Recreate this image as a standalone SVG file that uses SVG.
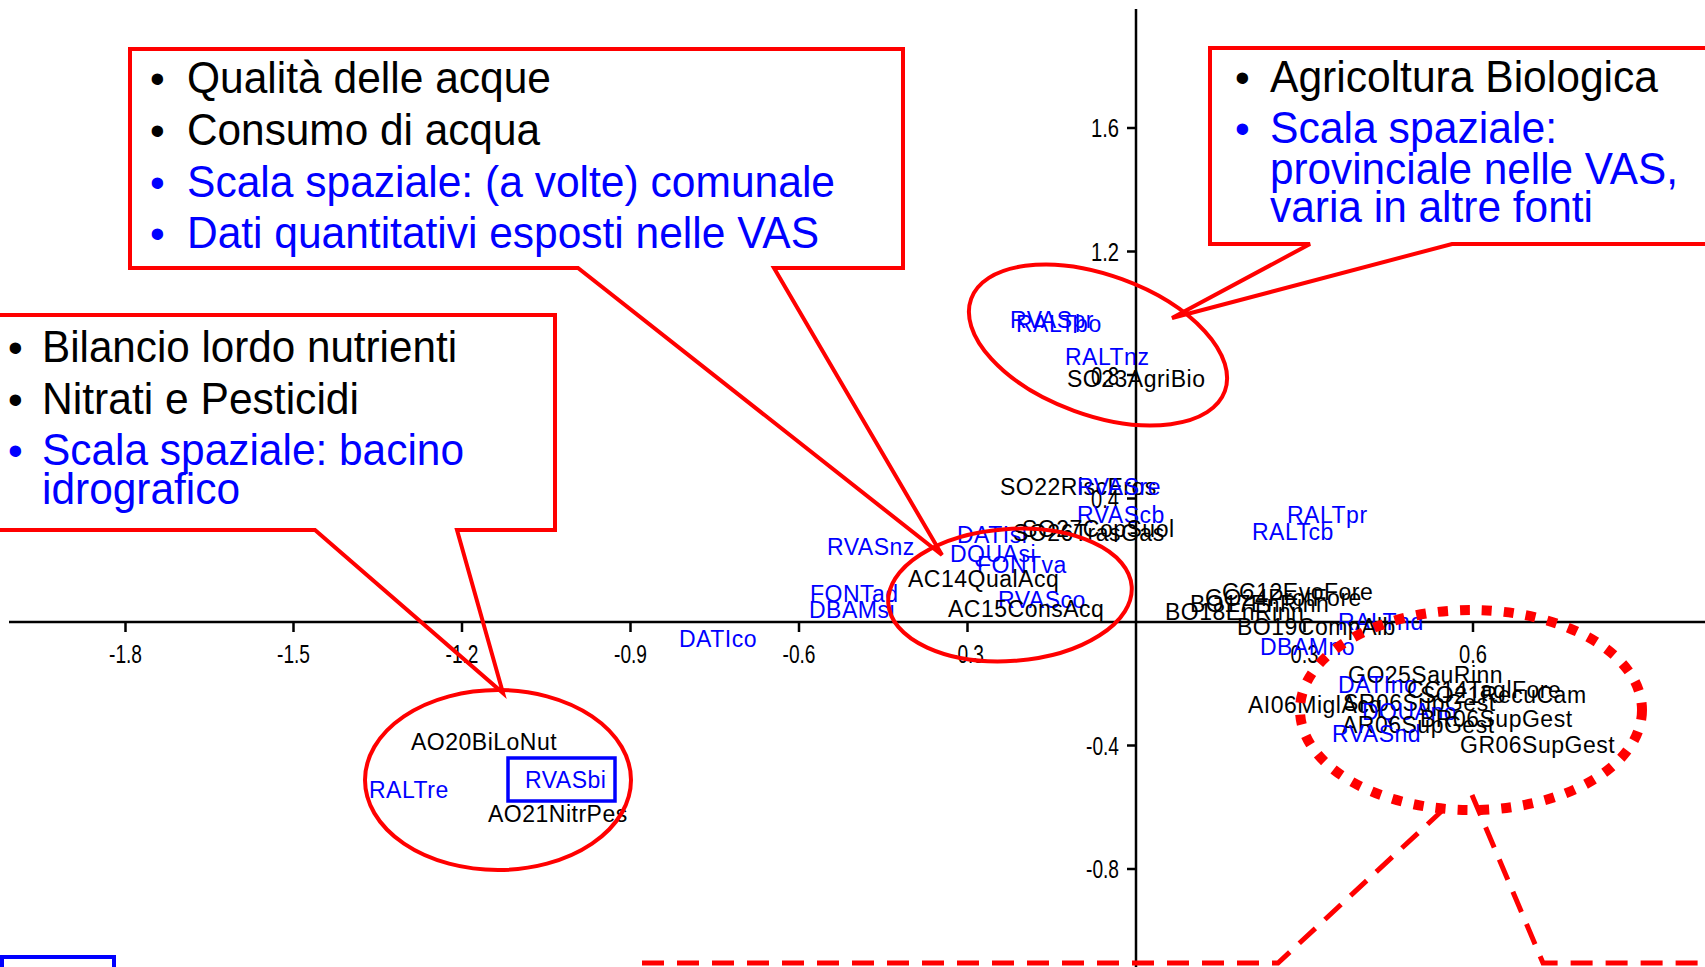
<svg xmlns="http://www.w3.org/2000/svg" width="1705" height="967" viewBox="0 0 1705 967">
<style>
text{font-family:"Liberation Sans",Arial,sans-serif}
.ax{stroke:#000;stroke-width:2.5;fill:none}
.tk{font-size:25px;fill:#000}
.lb{font-size:23px;letter-spacing:0.5px;fill:#000}
.lbb{font-size:23px;letter-spacing:0.5px;fill:#0000ff}
.co{fill:none;stroke:#ff0000;stroke-width:4}
.ct{font-size:45px;fill:#000}
.cb{font-size:45px;fill:#0000ff}
.bu{font-size:42px}
.el{fill:none;stroke:#ff0000;stroke-width:4}
</style>
<rect width="1705" height="967" fill="#fff"/>
<g id="axes">
<line class="ax" x1="9" y1="622" x2="1705" y2="622"/>
<line class="ax" x1="1136" y1="9" x2="1136" y2="967"/>
<path class="ax" d="M125.5,622v10M293.5,622v10M462,622v10M630.5,622v10M799,622v10M967.5,622v10M1304.5,622v10M1473,622v10M1136,128h-9M1136,251.5h-9M1136,375h-9M1136,498.5h-9M1136,745.5h-9M1136,869h-9"/>
<g class="tk" text-anchor="middle">
<text x="125.5" y="663" textLength="33" lengthAdjust="spacingAndGlyphs">-1.8</text><text x="293.5" y="663" textLength="33" lengthAdjust="spacingAndGlyphs">-1.5</text><text x="462" y="663" textLength="33" lengthAdjust="spacingAndGlyphs">-1.2</text><text x="630.5" y="663" textLength="33" lengthAdjust="spacingAndGlyphs">-0.9</text><text x="799" y="663" textLength="33" lengthAdjust="spacingAndGlyphs">-0.6</text><text x="967.5" y="663" textLength="33" lengthAdjust="spacingAndGlyphs">-0.3</text><text x="1304.5" y="663" textLength="28" lengthAdjust="spacingAndGlyphs">0.3</text><text x="1473" y="663" textLength="28" lengthAdjust="spacingAndGlyphs">0.6</text>
</g>
<g class="tk" text-anchor="end">
<text x="1119" y="137" textLength="28" lengthAdjust="spacingAndGlyphs">1.6</text><text x="1119" y="261" textLength="28" lengthAdjust="spacingAndGlyphs">1.2</text><text x="1119" y="385" textLength="28" lengthAdjust="spacingAndGlyphs">0.8</text><text x="1119" y="508" textLength="28" lengthAdjust="spacingAndGlyphs">0.4</text><text x="1119" y="755" textLength="33" lengthAdjust="spacingAndGlyphs">-0.4</text><text x="1119" y="878" textLength="33" lengthAdjust="spacingAndGlyphs">-0.8</text>
</g>
</g>
<g id="points">
<text class="lbb" x="1010" y="328">RVASpr</text>
<text class="lbb" x="1016" y="332">RALTbo</text>
<text class="lbb" x="1065" y="365">RALTnz</text>
<text class="lb" x="1067" y="387">SO23AgriBio</text>
<text class="lb" x="1000" y="495">SO22RiscEros</text>
<text class="lbb" x="1077" y="495">RVASre</text>
<text class="lbb" x="1077" y="523">RVAScb</text>
<text class="lbb" x="1287" y="523">RALTpr</text>
<text class="lbb" x="1252" y="540">RALTcb</text>
<text class="lbb" x="957" y="543">DATIsi</text>
<text class="lb" x="1022" y="537">SO27CopSuol</text>
<text class="lb" x="1013" y="541">SO26TrasGas</text>
<text class="lbb" x="827" y="555">RVASnz</text>
<text class="lbb" x="950" y="562">DQUAsi</text>
<text class="lbb" x="977" y="573">FONTva</text>
<text class="lb" x="908" y="587">AC14QualAcq</text>
<text class="lbb" x="810" y="602">FONTad</text>
<text class="lbb" x="998" y="608">RVASco</text>
<text class="lbb" x="809" y="618">DBAMsi</text>
<text class="lb" x="948" y="617">AC15ConsAcq</text>
<text class="lbb" x="679" y="647">DATIco</text>
<text class="lb" x="1222" y="600">CC12EvoFore</text>
<text class="lb" x="1205" y="606">GO24ProtFore</text>
<text class="lb" x="1190" y="612">BO17EnRinn</text>
<text class="lb" x="1165" y="620">BO18EnRinn</text>
<text class="lbb" x="1338" y="630">RALTnd</text>
<text class="lb" x="1237" y="635">BO19CompAlb</text>
<text class="lbb" x="1260" y="655">DBAMno</text>
<text class="lb" x="1348" y="683">GO25SauRinn</text>
<text class="lbb" x="1338" y="693">DATIno</text>
<text class="lb" x="1407" y="698">CC14TaglFore</text>
<text class="lb" x="1420" y="703">SO21RecuCam</text>
<text class="lb" x="1248" y="713">AI06MiglAcq</text>
<text class="lb" x="1343" y="711">SR06SupGest</text>
<text class="lbb" x="1362" y="720">DQUAno</text>
<text class="lb" x="1420" y="727">BR06SupGest</text>
<text class="lb" x="1342" y="733">AR06SupGest</text>
<text class="lbb" x="1332" y="742">RVASnd</text>
<text class="lb" x="1460" y="753">GR06SupGest</text>
<text class="lb" x="411" y="750">AO20BiLoNut</text>
<text class="lbb" x="369" y="798">RALTre</text>
<text class="lbb" x="525" y="788">RVASbi</text>
<text class="lb" x="488" y="822">AO21NitrPes</text>
</g>
<g id="rvasbi-box"><rect x="508" y="758" width="107" height="43" fill="none" stroke="#0000ff" stroke-width="3.5"/></g>
<g id="corner-box"><rect x="2" y="957" width="112" height="30" fill="none" stroke="#0000ff" stroke-width="4"/></g>
<g id="ellipses">
<ellipse class="el" cx="1098" cy="345" rx="135" ry="70" transform="rotate(20 1098 345)"/>
<ellipse class="el" cx="1010" cy="595" rx="122" ry="66" transform="rotate(-4 1010 595)"/>
<ellipse class="el" cx="498" cy="780" rx="133" ry="90"/>
<ellipse cx="1471" cy="710" rx="171" ry="100" fill="none" stroke="#ff0000" stroke-width="10" stroke-dasharray="10 12"/>
</g>
<g id="connectors">
<path d="M642,963H1278L1445,808M1472,795L1543,963H1705" fill="none" stroke="#ff0000" stroke-width="5" stroke-dasharray="22 13"/>
</g>
<g id="callout-water">
<path class="co" d="M130,49H903V268H774L942,555L578,268H130Z"/>
<text class="ct bu" x="150" y="93">•</text><text class="ct" x="187" y="93" textLength="364" lengthAdjust="spacingAndGlyphs">Qualità delle acque</text>
<text class="ct bu" x="150" y="145">•</text><text class="ct" x="187" y="145" textLength="353" lengthAdjust="spacingAndGlyphs">Consumo di acqua</text>
<text class="cb bu" x="150" y="197">•</text><text class="cb" x="187" y="197" textLength="648" lengthAdjust="spacingAndGlyphs">Scala spaziale: (a volte) comunale</text>
<text class="cb bu" x="150" y="248">•</text><text class="cb" x="187" y="248" textLength="632" lengthAdjust="spacingAndGlyphs">Dati quantitativi esposti nelle VAS</text>
</g>
<g id="callout-bio">
<path class="co" d="M1210,48H1712V244H1452L1172,318L1310,244H1210Z"/>
<text class="ct bu" x="1235" y="92">•</text><text class="ct" x="1270" y="92" textLength="388" lengthAdjust="spacingAndGlyphs">Agricoltura Biologica</text>
<text class="cb bu" x="1235" y="143">•</text><text class="cb" x="1270" y="143" textLength="287" lengthAdjust="spacingAndGlyphs">Scala spaziale:</text>
<text class="cb" x="1270" y="184" textLength="408" lengthAdjust="spacingAndGlyphs">provinciale nelle VAS,</text>
<text class="cb" x="1270" y="222" textLength="323" lengthAdjust="spacingAndGlyphs">varia in altre fonti</text>
</g>
<g id="callout-nutr">
<path class="co" d="M-5,315H555V530H457L503,693L315,530H-5Z"/>
<text class="ct bu" x="8" y="362">•</text><text class="ct" x="42" y="362" textLength="415" lengthAdjust="spacingAndGlyphs">Bilancio lordo nutrienti</text>
<text class="ct bu" x="8" y="414">•</text><text class="ct" x="42" y="414" textLength="317" lengthAdjust="spacingAndGlyphs">Nitrati e Pesticidi</text>
<text class="cb bu" x="8" y="465">•</text><text class="cb" x="42" y="465" textLength="422" lengthAdjust="spacingAndGlyphs">Scala spaziale: bacino</text>
<text class="cb" x="42" y="504" textLength="198" lengthAdjust="spacingAndGlyphs">idrografico</text>
</g>
</svg>
